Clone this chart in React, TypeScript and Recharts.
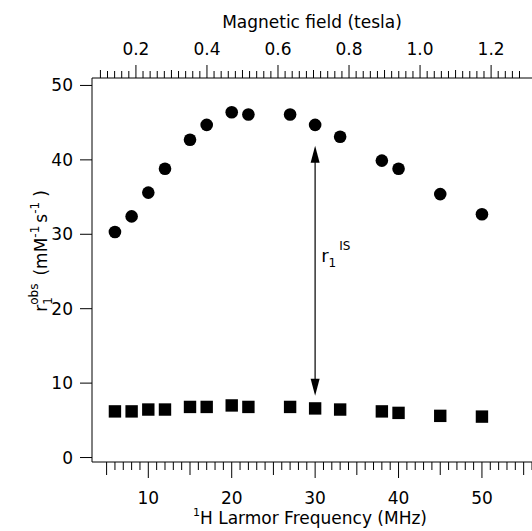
import React from "react";
import { ScatterChart, Scatter, XAxis, YAxis, ReferenceLine } from "recharts";

// 1H Larmor frequency (MHz) of each measurement
const freqMHz = [6, 8, 10, 12, 15, 17, 20, 22, 27, 30, 33, 38, 40, 45, 50];
// observed relaxivity r1obs (circles)
const r1Obs = [30.3, 32.4, 35.6, 38.8, 42.7, 44.7, 46.4, 46.1, 46.1, 44.7, 43.1, 39.9, 38.8, 35.4, 32.7];
// lower series (squares)
const r1Low = [6.2, 6.2, 6.45, 6.45, 6.8, 6.8, 7.0, 6.8, 6.8, 6.6, 6.45, 6.2, 6.0, 5.6, 5.5];

// r1IS double arrow
const arrowFreq = 30;
const arrowSpan = [8.3, 41.9];

const MHZ_PER_TESLA = 42.58;
const mhzDomain = [3.25, 56.0];
const teslaDomain = [mhzDomain[0] / MHZ_PER_TESLA, mhzDomain[1] / MHZ_PER_TESLA];
const yDomain = [-0.6, 51];

const mhzMajor = [10, 20, 30, 40, 50];
const mhzTicks = Array.from({ length: 52 }, (_, i) => i + 5);
const teslaMajor = ["0.2", "0.4", "0.6", "0.8", "1.0", "1.2"];
const teslaTicks = Array.from({ length: 60 }, (_, i) => (10 + i * 2) / 100);
const yTicks = [0, 10, 20, 30, 40, 50];

const FONT = "'DejaVu Sans', sans-serif";

const obsData = freqMHz.map((f, i) => ({ x: f, y: r1Obs[i] }));
const lowData = freqMHz.map((f, i) => ({ x: f, y: r1Low[i] }));
// same points expressed in tesla, only to give the top axis its scale
const teslaData = freqMHz.map((f, i) => ({ x: f / MHZ_PER_TESLA, y: r1Obs[i] }));

const BottomTick = (props: any) => {
  const { x, y, payload } = props;
  const v = Math.round(payload.value);
  const len = v % 10 === 0 ? 16 : v % 5 === 0 ? 13 : 8;
  return (
    <g>
      <line x1={x} x2={x} y1={y} y2={y + len} stroke="#000" strokeWidth={1} />
      {mhzMajor.includes(v) && (
        <text x={x} y={y + 42} textAnchor="middle" fontSize={17} fontFamily={FONT} fill="#000">
          {v}
        </text>
      )}
    </g>
  );
};

const TopTick = (props: any) => {
  const { x, y, payload } = props;
  const k = Math.round(payload.value * 100);
  const label = (k / 100).toFixed(1);
  const major = k % 20 === 0;
  const len = major ? 13 : k % 10 === 0 ? 8 : 7;
  return (
    <g>
      <line x1={x} x2={x} y1={y} y2={y - len} stroke="#000" strokeWidth={1} />
      {major && teslaMajor.includes(label) && (
        <text x={x} y={y - 23} textAnchor="middle" fontSize={17} fontFamily={FONT} fill="#000">
          {label}
        </text>
      )}
    </g>
  );
};

const LeftTick = (props: any) => {
  const { x, y, payload } = props;
  return (
    <g>
      <line x1={x - 12} x2={x} y1={y} y2={y} stroke="#000" strokeWidth={1} />
      <text x={x - 19} y={y + 6} textAnchor="end" fontSize={17} fontFamily={FONT} fill="#000">
        {payload.value}
      </text>
    </g>
  );
};

const Dot = (p: any) => <circle cx={p.cx} cy={p.cy} r={6.3} fill="#000" />;
const Sq = (p: any) => <rect x={p.cx - 6.2} y={p.cy - 6.2} width={12.4} height={12.4} fill="#000" />;
const NoMark = () => <g />;

const ArrowShape = (p: any) => {
  const x = p.x1;
  const top = Math.min(p.y1, p.y2);
  const bot = Math.max(p.y1, p.y2);
  const mid = (top + bot) / 2;
  return (
    <g>
      <line x1={x} x2={x} y1={top + 10} y2={bot - 10} stroke="#333" strokeWidth={1.5} />
      <polygon points={`${x},${top} ${x - 4.5},${top + 17} ${x + 4.5},${top + 17}`} fill="#000" />
      <polygon points={`${x},${bot} ${x - 4.5},${bot - 17} ${x + 4.5},${bot - 17}`} fill="#000" />
      <text x={x + 6} y={mid - 9} fontSize={18} fontFamily={FONT} fill="#000">
        r
        <tspan fontSize={12} dy={5}>1</tspan>
        <tspan fontSize={12} dx={3} dy={-17}>IS</tspan>
      </text>
    </g>
  );
};

const TopTitle = () => (
  <text x={312} y={28} textAnchor="middle" fontSize={17} fontFamily={FONT} fill="#000">
    Magnetic field (tesla)
  </text>
);

const BottomTitle = () => (
  <text x={310} y={524} textAnchor="middle" fontSize={17} fontFamily={FONT} fill="#000">
    <tspan fontSize={11} dy={-8}>1</tspan>
    <tspan dy={8}>H Larmor Frequency (MHz)</tspan>
  </text>
);

const LeftTitle = () => {
  const cx = 47;
  const cy = 251;
  return (
    <text
      transform={`rotate(-90 ${cx} ${cy})`}
      x={cx}
      y={cy}
      textAnchor="middle"
      fontSize={17}
      fontFamily={FONT}
      fill="#000"
    >
      r
      <tspan fontSize={12} dy={5}>1</tspan>
      <tspan fontSize={12} dx={-7.6} dy={-14}>obs</tspan>
      <tspan dx={8} dy={9}>(mM</tspan>
      <tspan fontSize={12} dy={-8}>-1</tspan>
      <tspan dx={3} dy={8}>s</tspan>
      <tspan fontSize={12} dy={-8}>-1</tspan>
      <tspan dx={5} dy={8}>)</tspan>
    </text>
  );
};

export default function App() {
  return (
    <div style={{ position: "absolute", left: 0, top: 0, background: "#fff" }}>
      <ScatterChart width={532} height={531} margin={{ top: 0, right: 0, bottom: 0, left: 0 }}>
        <XAxis
          xAxisId="mhz"
          type="number"
          dataKey="x"
          orientation="bottom"
          height={69}
          domain={mhzDomain}
          allowDataOverflow
          ticks={mhzTicks}
          interval={0}
          tickSize={0}
          tickMargin={0}
          tickLine={false}
          tick={<BottomTick />}
          axisLine={{ stroke: "#000", strokeWidth: 1 }}
          label={<BottomTitle />}
        />
        <XAxis
          xAxisId="tesla"
          type="number"
          dataKey="x"
          orientation="top"
          height={78}
          domain={teslaDomain}
          allowDataOverflow
          ticks={teslaTicks}
          interval={0}
          tickSize={0}
          tickMargin={0}
          tickLine={false}
          tick={<TopTick />}
          axisLine={{ stroke: "#000", strokeWidth: 1 }}
          label={<TopTitle />}
        />
        <YAxis
          type="number"
          dataKey="y"
          width={92}
          domain={yDomain}
          allowDataOverflow
          ticks={yTicks}
          interval={0}
          tickSize={0}
          tickMargin={0}
          tickLine={false}
          tick={<LeftTick />}
          axisLine={{ stroke: "#000", strokeWidth: 1 }}
          label={<LeftTitle />}
        />
        <Scatter xAxisId="tesla" data={teslaData} shape={NoMark} isAnimationActive={false} />
        <Scatter xAxisId="mhz" data={obsData} shape={Dot} isAnimationActive={false} />
        <Scatter xAxisId="mhz" data={lowData} shape={Sq} isAnimationActive={false} />
        <ReferenceLine
          xAxisId="mhz"
          segment={[
            { x: arrowFreq, y: arrowSpan[0] },
            { x: arrowFreq, y: arrowSpan[1] },
          ]}
          ifOverflow="visible"
          shape={ArrowShape}
        />
      </ScatterChart>
    </div>
  );
}
